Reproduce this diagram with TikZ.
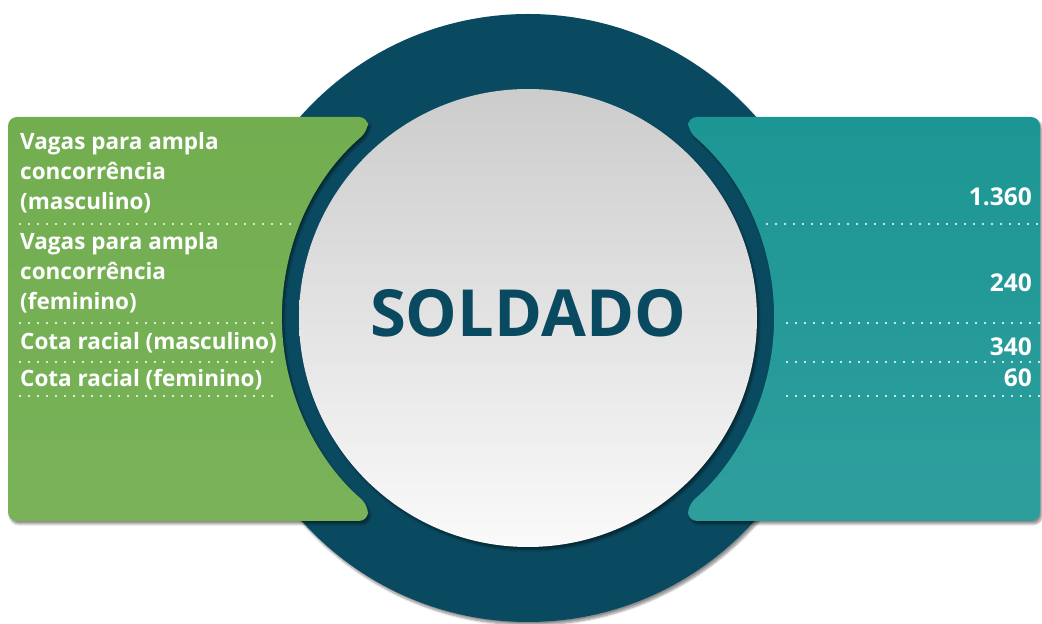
\documentclass[tikz,border=0pt]{standalone}
\usepackage{fontspec}
\setmainfont{Open Sans}
\usetikzlibrary{shadows.blur}
\definecolor{navy}{RGB}{10,74,96}
\definecolor{leafgreen}{RGB}{114,174,80}
\definecolor{panelteal}{RGB}{28,150,148}
\tikzset{
  lbl/.style={text=white,font=\bfseries\fontsize{22.5}{30}\selectfont,inner sep=0pt,align=left,anchor=west},
  num/.style={text=white,font=\bfseries\fontsize{24.5}{30}\selectfont,inner sep=0pt,anchor=east},
  dotline/.style={white,line width=2.2pt,line cap=round,dash pattern=on 0pt off 9pt},
  softshadow/.style={blur shadow={shadow xshift=2pt,shadow yshift=-3pt,shadow blur steps=8,shadow opacity=45}}
}
\begin{document}
\begin{tikzpicture}[x=1pt,y=1pt]
\useasboundingbox (0,0) rectangle (1042,624);
% outer ring
\fill[navy,softshadow] (528,306) circle (304);
% side panels
\shade[top color=leafgreen,bottom color=leafgreen!95!white,rounded corners=9pt,softshadow]
  (8,103) -- (8,507) -- (368,507) -- (368,493)
  arc[start angle=130.55,end angle=229.45,radius=246] -- (368,103) -- cycle;
\shade[top color=panelteal,bottom color=panelteal!92!white,rounded corners=9pt,softshadow]
  (1040,103) -- (1040,507) -- (688,507) -- (688,493)
  arc[start angle=49.45,end angle=-49.45,radius=246] -- (688,103) -- cycle;
% centre disc
\shade[top color=black!20,bottom color=black!2,softshadow] (528,306) circle (229);
\node[text=navy,font=\bfseries\fontsize{65}{65}\selectfont] (title) at (528,311) {SOLDADO};
% labels
\node[lbl] (l1) at (20,451) {Vagas para ampla\\concorrência\\(masculino)};
\node[lbl] (l2) at (20,351) {Vagas para ampla\\concorrência\\(feminino)};
\node[lbl] (l3) at (20,281) {Cota racial (masculino)};
\node[lbl] (l4) at (20,244) {Cota racial (feminino)};
\node[num] (n1) at (1032,427) {1.360};
\node[num] (n2) at (1032,341) {240};
\node[num] (n3) at (1032,277) {340};
\node[num] (n4) at (1032,246) {60};
% dotted rules
\draw[dotline] (20,400) -- (297,400);
\foreach \y in {301,262,228}
  \draw[dotline] (20,\y) -- (277,\y);
\draw[dotline] (767,400) -- (1040,400);
\foreach \y in {301,262,228}
  \draw[dotline] (787,\y) -- (1040,\y);
\end{tikzpicture}
\end{document}
